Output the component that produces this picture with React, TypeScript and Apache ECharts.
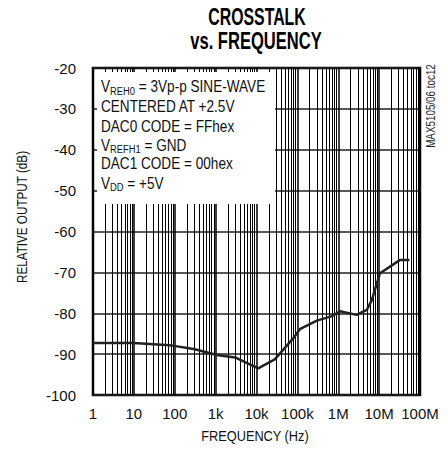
import React, { useEffect, useRef } from "react";
import * as echarts from "echarts";

const freqs = [1, 10, 75, 310, 1070, 3000, 11000, 28000, 80000, 115000, 300000, 700000, 1100000, 2800000, 5000000, 6600000, 10500000, 32000000, 55000000];
const crosstalk = [-87.3, -87.3, -87.8, -88.8, -90.2, -90.8, -93.5, -91.3, -86.1, -83.9, -81.8, -80.7, -79.5, -80.4, -79.2, -76.8, -70.2, -67.0, -67.0];
const xTickLabels = ["1", "10", "100", "1k", "10k", "100k", "1M", "10M", "100M"];
const yMin = -100;
const yMax = -20;
const yStep = 10;
const decades = [1, 10, 100, 1000, 10000, 100000, 1000000, 10000000];
const minorMultipliers = [2, 3, 4, 5, 6, 7, 8, 9];
const noteLines = [
  { main: "V", sub: "REH0", rest: " = 3Vp-p SINE-WAVE" },
  { main: "CENTERED AT +2.5V", sub: "", rest: "" },
  { main: "DAC0 CODE = FFhex", sub: "", rest: "" },
  { main: "V", sub: "REFH1", rest: " = GND" },
  { main: "DAC1 CODE = 00hex", sub: "", rest: "" },
  { main: "V", sub: "DD", rest: " = +5V" },
];

const FONT = "'Liberation Sans', Arial, sans-serif";

export default function App() {
  const ref = useRef<HTMLDivElement>(null);
  useEffect(() => {
    if (!ref.current) return;
    const chart = echarts.init(ref.current, null, { renderer: "svg" });
    const minorLines: any[] = [];
    decades.forEach((d) => minorMultipliers.forEach((m) => minorLines.push({ xAxis: d * m })));
    const lineYs = [87, 107, 127, 145.5, 164, 183.5];
    const noteEls = noteLines.map((l, i) => ({
      type: "text",
      x: 101,
      y: lineYs[i],
      z: 101,
      scaleX: 0.85,
      style: l.sub
        ? {
            text: `{m|${l.main}}{s|${l.sub}}{m|${l.rest}}`,
            rich: {
              m: { fontSize: 16, lineHeight: 19, fontFamily: FONT, fill: "#111" },
              s: { fontSize: 11, lineHeight: 11, fontFamily: FONT, fill: "#111", verticalAlign: "bottom" },
            },
            verticalAlign: "middle",
            align: "left",
          }
        : {
            text: l.main,
            fontSize: 16,
            fontFamily: FONT,
            fill: "#111",
            verticalAlign: "middle",
            align: "left",
          },
    }));
    chart.setOption({
      animation: false,
      backgroundColor: "#fff",
      grid: {
        left: 93,
        top: 68,
        width: 327,
        height: 327,
        show: true,
        borderColor: "#000",
        borderWidth: 2.5,
        backgroundColor: "transparent",
      },
      xAxis: {
        type: "log",
        logBase: 10,
        min: 1,
        max: 100000000,
        splitNumber: 8,
        axisLine: { show: false },
        axisTick: { show: false },
        axisLabel: {
          fontSize: 15,
          fontFamily: FONT,
          color: "#111",
          margin: 11,
          formatter: (v: number) => xTickLabels[Math.round(Math.log10(v))] ?? "",
        },
        splitLine: { show: true, lineStyle: { color: "#000", width: 1.5 } },
      },
      yAxis: {
        type: "value",
        min: yMin,
        max: yMax,
        interval: yStep,
        axisLine: { show: false },
        axisTick: { show: false },
        axisLabel: { fontSize: 15, fontFamily: FONT, color: "#111", margin: 17 },
        splitLine: { show: true, lineStyle: { color: "#222", width: 1.5 } },
      },
      series: [
        {
          type: "line",
          data: freqs.map((f, i) => [f, crosstalk[i]]),
          showSymbol: false,
          smooth: false,
          lineStyle: { color: "#222", width: 2.5 },
          z: 5,
          markLine: {
            silent: true,
            symbol: ["none", "none"],
            label: { show: false },
            lineStyle: { color: "#000", width: 1, type: "solid" },
            data: minorLines,
            z: 1,
          },
        },
      ],
      graphic: [
        {
          type: "rect",
          z: 100,
          shape: { x: 97, y: 72, width: 178, height: 132 },
          style: { fill: "#fff" },
        },
        ...noteEls,
        {
          type: "text",
          x: 257,
          y: 17,
          scaleX: 0.69,
          style: { text: "CROSSTALK", fontSize: 23, fontWeight: "bold", fontFamily: FONT, fill: "#000", align: "center", verticalAlign: "middle" },
        },
        {
          type: "text",
          x: 256,
          y: 41,
          scaleX: 0.72,
          style: { text: "vs. FREQUENCY", fontSize: 23, fontWeight: "bold", fontFamily: FONT, fill: "#000", align: "center", verticalAlign: "middle" },
        },
        {
          type: "text",
          x: 22,
          y: 217,
          rotation: Math.PI / 2,
          scaleX: 0.78,
          style: { text: "RELATIVE OUTPUT (dB)", fontSize: 15, fontFamily: FONT, fill: "#111", align: "center", verticalAlign: "middle" },
        },
        {
          type: "text",
          x: 255,
          y: 436,
          scaleX: 0.85,
          style: { text: "FREQUENCY (Hz)", fontSize: 15, fontFamily: FONT, fill: "#111", align: "center", verticalAlign: "middle" },
        },
        {
          type: "text",
          x: 431,
          y: 106,
          rotation: Math.PI / 2,
          scaleX: 0.82,
          style: { text: "MAX5105/06 toc12", fontSize: 12, fontFamily: FONT, fill: "#222", align: "center", verticalAlign: "middle" },
        },
      ],
    });
    return () => chart.dispose();
  }, []);
  return <div ref={ref} style={{ width: 447, height: 451, position: "absolute", left: 0, top: 0 }} />;
}
